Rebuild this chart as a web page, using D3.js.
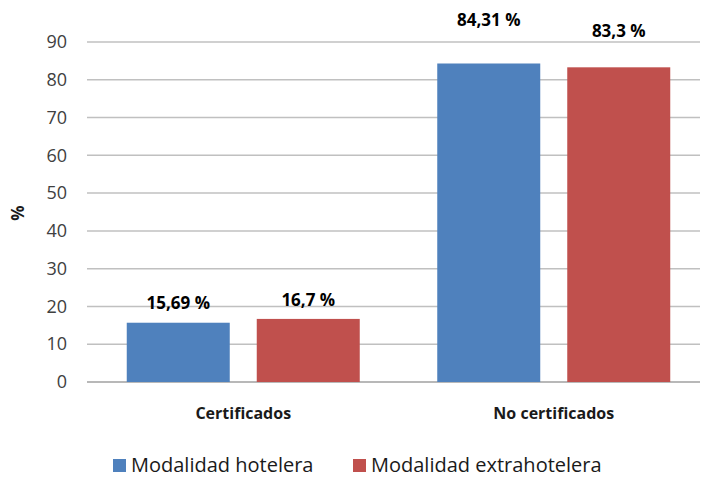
<!DOCTYPE html>
<html>
<head>
	<meta charset="utf-8">
	<script src="https://cdn.jsdelivr.net/npm/d3@7"></script>
	<title>Certificados</title>
	<style>
		body { margin: 0; background: #fff; }
	</style>
</head>
<body>
<script>

	/*------ data ------*/

	var categories = ['Certificados', 'No certificados'];
	var series = ['Modalidad hotelera', 'Modalidad extrahotelera'];
	var hotelera = [15.69, 84.31];
	var extrahotelera = [16.7, 83.3];
	var valueLabels = [['15,69 %', '16,7 %'], ['84,31 %', '83,3 %']];
	var yTicks = [0, 10, 20, 30, 40, 50, 60, 70, 80, 90];

	/*------ layout ------*/

	var svgWidth = 702, svgHeight = 477;
	var plotLeft = 87, plotRight = 700, plotTop = 42, plotBottom = 382;
	var colors = ['#4F81BD', '#C0504D'];
	// label lift above bar top, per category and series (as in the original)
	var labelLift = [[14, 13], [37, 30]];

	var svg = d3.select('body')
		.append('svg')
		.attr('width', svgWidth)
		.attr('height', svgHeight);

	var yScale = d3.scaleLinear().domain([0, 90]).range([plotBottom, plotTop]);
	var x0 = d3.scaleBand().domain(categories).range([88, 709]).padding(0);
	var x1 = d3.scaleBand().domain(series)
		.range([(x0.bandwidth() - 233) / 2, (x0.bandwidth() + 233) / 2])
		.paddingInner(0.2077);

	// gridlines
	svg.append('g')
		.selectAll('line')
		.data(yTicks)
		.enter()
		.append('line')
		.attr('x1', plotLeft).attr('x2', plotRight)
		.attr('y1', function (d) { return yScale(d); })
		.attr('y2', function (d) { return yScale(d); })
		.attr('stroke', function (d) { return d === 0 ? '#a0a0a0' : '#c0c0c0'; })
		.attr('stroke-width', 1.5);

	// y axis labels
	var yAxis = svg.append('g')
		.attr('transform', 'translate(' + 67 + ',0)')
		.call(d3.axisLeft(yScale).tickValues(yTicks).tickSize(0).tickPadding(0));
	yAxis.select('.domain').remove();
	yAxis.selectAll('text')
		.attr('font-family', 'Open Sans')
		.attr('font-size', 18)
		.attr('fill', '#404040');

	svg.append('text')
		.attr('transform', 'translate(24,213) rotate(-90)')
		.attr('text-anchor', 'middle')
		.attr('font-family', 'Open Sans')
		.attr('font-weight', 'bold')
		.attr('font-size', 17)
		.attr('fill', '#1a1a1a')
		.text('%');

	// bars
	var rows = categories.map(function (c, i) {
		return { cat: c, i: i, vals: [hotelera[i], extrahotelera[i]] };
	});

	var groups = svg.selectAll('g.cat')
		.data(rows)
		.enter()
		.append('g')
		.attr('class', 'cat')
		.attr('transform', function (d) { return 'translate(' + x0(d.cat) + ',0)'; });

	groups.selectAll('rect')
		.data(function (d) { return d.vals.map(function (v, j) { return { v: v, j: j, i: d.i }; }); })
		.enter()
		.append('rect')
		.attr('x', function (d) { return x1(series[d.j]); })
		.attr('y', function (d) { return yScale(d.v); })
		.attr('width', x1.bandwidth())
		.attr('height', function (d) { return yScale(0) - yScale(d.v); })
		.attr('fill', function (d) { return colors[d.j]; });

	groups.selectAll('text.val')
		.data(function (d) { return d.vals.map(function (v, j) { return { v: v, j: j, i: d.i }; }); })
		.enter()
		.append('text')
		.attr('class', 'val')
		.attr('x', function (d) { return x1(series[d.j]) + x1.bandwidth() / 2; })
		.attr('y', function (d) { return yScale(d.v) - labelLift[d.i][d.j]; })
		.attr('text-anchor', 'middle')
		.attr('font-family', 'Open Sans')
		.attr('font-weight', 'bold')
		.attr('font-size', 17)
		.attr('fill', '#000')
		.text(function (d) { return valueLabels[d.i][d.j]; });

	// category labels
	svg.selectAll('text.catlabel')
		.data(categories)
		.enter()
		.append('text')
		.attr('class', 'catlabel')
		.attr('x', function (d) { return x0(d) + x0.bandwidth() / 2; })
		.attr('y', 419)
		.attr('text-anchor', 'middle')
		.attr('font-family', 'Open Sans')
		.attr('font-weight', 'bold')
		.attr('font-size', 16)
		.attr('fill', '#1a1a1a')
		.text(function (d) { return d; });

	// legend
	var legendX = [113, 353];
	var legend = svg.selectAll('g.legend')
		.data(series)
		.enter()
		.append('g')
		.attr('class', 'legend')
		.attr('transform', function (d, i) { return 'translate(' + legendX[i] + ',459)'; });

	legend.append('rect')
		.attr('width', 13).attr('height', 13)
		.attr('fill', function (d, i) { return colors[i]; });

	legend.append('text')
		.attr('x', 18)
		.attr('y', 13)
		.attr('font-family', 'Open Sans')
		.attr('font-size', 20)
		.attr('fill', '#1a1a1a')
		.text(function (d) { return d; });

</script>
</body>
</html>
